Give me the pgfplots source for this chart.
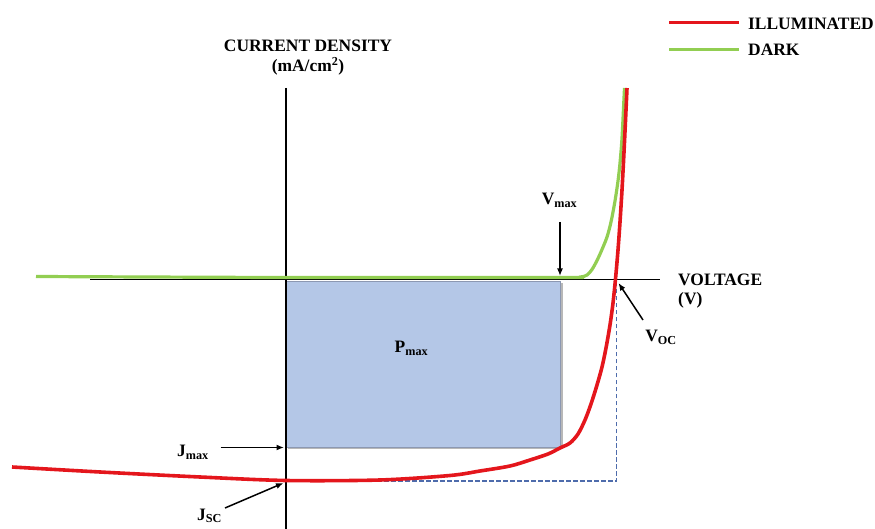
\documentclass[border=0pt]{standalone}
\usepackage{pgfplots}
\pgfplotsset{compat=1.18}
\usepackage{fontspec}
\setmainfont{Liberation Serif}
\usetikzlibrary{arrows.meta}

\definecolor{illum}{RGB}{228,22,28}
\definecolor{dark}{RGB}{146,206,82}
\definecolor{pmaxfill}{RGB}{180,199,231}
\definecolor{pmaxedge}{RGB}{140,152,178}
\definecolor{guide}{RGB}{78,108,172}

% Voltage in V, current density in mA/cm^2
% Illuminated J-V curve
\pgfplotstableread{
V      J
-0.548 -18.8
-0.372 -19.3
-0.172 -19.8
 0.000 -20.15
 0.188 -20.1
 0.328 -19.65
 0.388 -19.2
 0.448 -18.7
 0.488 -18.1
 0.524 -17.5
 0.548 -16.9
 0.568 -16.4
 0.584 -15.5
 0.598 -14.1
 0.610 -12.5
 0.622 -10.6
 0.632 -8.8
 0.640 -6.9
 0.648 -4.6
 0.654 -2.4
 0.659 0.0
 0.664 2.9
 0.668 5.7
 0.672 8.9
 0.676 12.7
 0.680 16.9
 0.682 19.1
}\illuminated

% Dark J-V curve
\pgfplotstableread{
V      J
-0.500 0.25
 0.000 0.15
 0.548 0.15
 0.588 0.20
 0.602 0.40
 0.612 0.95
 0.622 1.85
 0.632 2.95
 0.642 4.20
 0.650 5.70
 0.658 7.80
 0.664 9.80
 0.668 11.6
 0.672 14.1
 0.676 18.1
 0.677 19.1
}\darkcurve

\begin{document}
\begin{tikzpicture}[
  every node/.style={font=\fontsize{17.5}{21}\selectfont\bfseries, inner sep=0pt},
  pointer/.style={black, line width=1.5bp, -{Latex[length=7.5bp,width=6bp]}}
]
\begin{axis}[
  name=ax,
  scale only axis,
  width=875bp, height=529bp,
  xmin=-0.572, xmax=1.178,
  ymin=-25, ymax=27.9,
  hide axis,
  clip=false,
]
% maximum power rectangle (Vmax x Jmax) with a soft shadow
\addplot[fill=black!28, draw=none] coordinates
  {(0.004,-0.4) (0.553,-0.4) (0.553,-17.0) (0.004,-17.0)} -- cycle;
\addplot[fill=pmaxfill, draw=pmaxedge, line width=0.6bp] coordinates
  {(0,-0.2) (0.548,-0.2) (0.548,-16.8) (0,-16.8)} -- cycle;

% guides to Jsc and Voc
\addplot[guide, dash pattern=on 4.5bp off 2.5bp, line width=1.5bp] coordinates
  {(0,-20.2) (0.661,-20.2) (0.661,-0.3)};

% axes
\draw[black, line width=1.5bp] (axis cs:0,19.1) -- (axis cs:0,-25);
\draw[black, line width=1.5bp] (axis cs:-0.392,-0.05) -- (axis cs:0.748,-0.05);

% curves
\addplot[dark, line width=3.2bp, smooth] table[x=V, y=J] {\darkcurve};
\addplot[illum, line width=3.6bp, smooth] table[x=V, y=J] {\illuminated};

% axis titles
\node[anchor=base] at (axis cs:0.044,22.7) {CURRENT DENSITY};
\node[anchor=base] at (axis cs:0.044,20.7) {(mA/cm\textsuperscript{2})};
\node[anchor=base west] at (axis cs:0.784,-0.7) {VOLTAGE};
\node[anchor=base west] at (axis cs:0.784,-2.6) {(V)};

% annotations
\node[anchor=base] at (axis cs:0.251,-7.4) {P\textsubscript{max}};
\node[anchor=base] at (axis cs:0.547,7.4) {V\textsubscript{max}};
\draw[pointer] (axis cs:0.548,5.7) -- (axis cs:0.548,0.3);
\node[anchor=base] at (axis cs:-0.186,-17.8) {J\textsubscript{max}};
\draw[pointer] (axis cs:-0.131,-16.85) -- (axis cs:-0.004,-16.85);
\node[anchor=base] at (axis cs:-0.153,-24.1) {J\textsubscript{SC}};
\draw[pointer] (axis cs:-0.122,-22.9) -- (axis cs:-0.005,-20.4);
\node[anchor=base] at (axis cs:0.75,-6.3) {V\textsubscript{OC}};
\draw[pointer] (axis cs:0.714,-4.1) -- (axis cs:0.665,-0.4);

% legend
\draw[illum, line width=3bp] (axis cs:0.766,25.6) -- (axis cs:0.906,25.6);
\node[anchor=base west] at (axis cs:0.924,24.9) {ILLUMINATED};
\draw[dark, line width=3bp] (axis cs:0.766,22.9) -- (axis cs:0.906,22.9);
\node[anchor=base west] at (axis cs:0.924,22.3) {DARK};
\end{axis}
\pgfresetboundingbox
\path[use as bounding box] (ax.south west) rectangle (ax.north east);
\end{tikzpicture}
\end{document}
